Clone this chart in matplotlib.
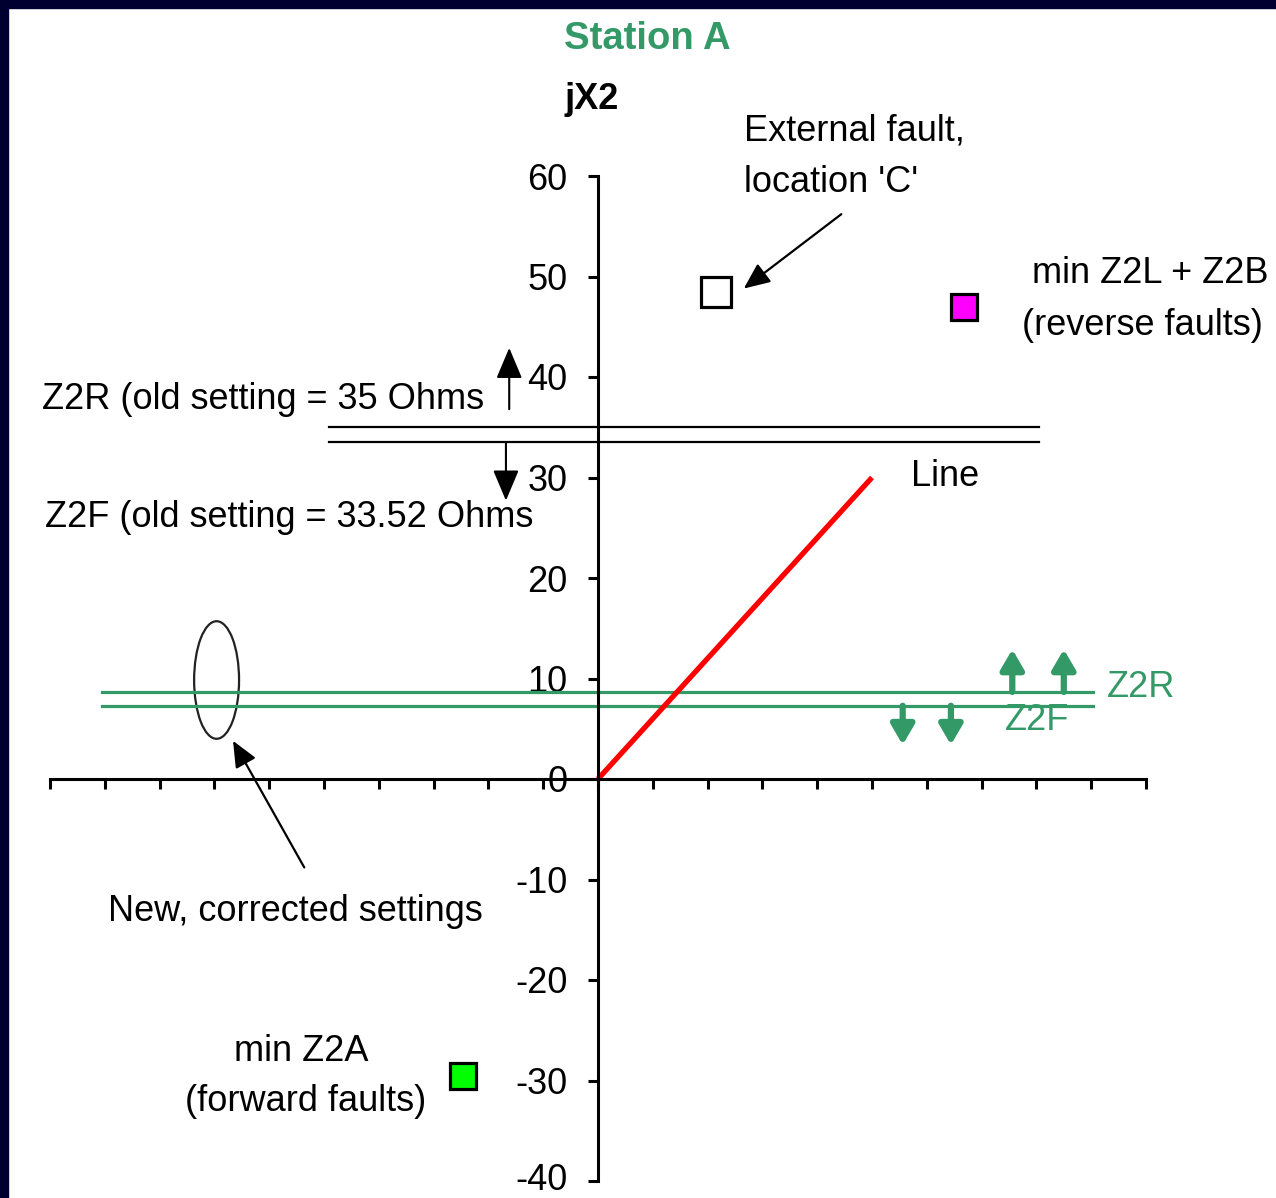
import matplotlib
matplotlib.use("Agg")
import matplotlib.pyplot as plt
import matplotlib.transforms as mtransforms
from matplotlib.patches import Ellipse, FancyArrowPatch, Rectangle

plt.rcParams['font.family'] = ['Liberation Sans', 'DejaVu Sans']

# ---- data ----
line_x = [0, 25]
line_y = [0, 30]
ext_fault = (10.8, 48.5)
reverse_min = (33.4, 47.0)
forward_min = (-12.3, -29.6)
z2r_old, z2f_old = 35.0, 33.52
old_span = (-24.5, 40.2)
z2r_new, z2f_new = 8.66, 7.29
new_span = (-45.3, 45.2)
yticks = [-40, -30, -20, -10, 0, 10, 20, 30, 40, 50, 60]
xticks = list(range(-50, 51, 5))

GREEN = '#339966'
NAVY = '#000030'
FS = 26

fig = plt.figure(figsize=(12.76, 11.98), dpi=100, facecolor='white')
# navy border (top/left)
fig.patches.append(Rectangle((0, 1 - 8 / 1198), 1, 8 / 1198, transform=fig.transFigure,
                             color=NAVY, zorder=0))
fig.patches.append(Rectangle((0, 0), 8 / 1276, 1, transform=fig.transFigure,
                             color=NAVY, zorder=0))

ax = fig.add_axes([50 / 1276, 1 - 1181 / 1198, (1146 - 50) / 1276, (1181 - 176) / 1198])
ax.set_facecolor('none')
ax.set_xlim(-50, 50)
ax.set_ylim(-40, 60)
for s in ['top', 'right']:
    ax.spines[s].set_visible(False)
ax.spines['left'].set_position(('data', 0))
ax.spines['bottom'].set_position(('data', 0))
ax.spines['left'].set_linewidth(2.2)
ax.spines['bottom'].set_linewidth(2.2)
ax.set_yticks(yticks)
ax.set_yticklabels([str(v) for v in yticks], fontsize=FS)
ax.set_xticks(xticks)
ax.set_xticklabels([])
ax.tick_params(axis='y', direction='out', length=7, width=2.2, pad=15)
ax.tick_params(axis='x', direction='out', length=7, width=2.2)
# nudge the lowest tick label slightly up so it stays inside the canvas
lowest = ax.get_yticklabels()[0]
lowest.set_transform(lowest.get_transform() +
                     mtransforms.ScaledTranslation(0, 4 / 100, fig.dpi_scale_trans))

# old settings lines
ax.plot(old_span, [z2r_old, z2r_old], color='black', lw=1.6)
ax.plot(old_span, [z2f_old, z2f_old], color='black', lw=1.6)
# new settings lines
ax.plot(new_span, [z2r_new, z2r_new], color=GREEN, lw=2.3)
ax.plot(new_span, [z2f_new, z2f_new], color=GREEN, lw=2.3)

# line
ax.plot(line_x, line_y, color='#ff0000', lw=3.8, solid_capstyle='butt')

# points
ax.plot(*ext_fault, marker='s', ms=21, mfc='white', mec='black', mew=2.3, ls='none')
ax.plot(*reverse_min, marker='s', ms=19, mfc='#ff00ff', mec='black', mew=2.3, ls='none')
ax.plot(*forward_min, marker='s', ms=19, mfc='#00ff00', mec='black', mew=2.3, ls='none')


def arrow(p0, p1, color='black', lw=1.5, hl=18, hw=9):
    a = FancyArrowPatch(p0, p1, arrowstyle=f'-|>,head_length={hl},head_width={hw}',
                        mutation_scale=1, color=color, lw=lw, shrinkA=0, shrinkB=0,
                        clip_on=False)
    ax.add_patch(a)


# black old-setting arrows
arrow((-8.1, 36.8), (-8.1, 42.9), lw=1.5, hl=19, hw=8)
arrow((-8.4, z2f_old), (-8.4, 27.7), lw=1.5, hl=19, hw=8)
# green arrows
for gx in [37.8, 42.5]:
    arrow((gx, z2r_new), (gx, 12.9), color=GREEN, lw=4.5, hl=12, hw=7)
for gx in [27.8, 32.2]:
    arrow((gx, z2f_new), (gx, 3.4), color=GREEN, lw=4.5, hl=12, hw=7)

# annotation arrows
arrow((22.2, 56.2), (13.3, 48.8), lw=1.6, hl=16, hw=7)
arrow((-26.8, -8.8), (-33.3, 3.8), lw=1.6, hl=16, hw=7)

# ellipse
ax.add_patch(Ellipse((-34.8, 9.85), 4.1, 11.7, fill=False, ec='#222222', lw=1.6))

# texts
txt = dict(fontsize=FS, va='center', clip_on=False)
ax.text(4.5, 73.6, 'Station A', color=GREEN, fontweight='bold', ha='center',
        **{**txt, 'fontsize': 27.5})
ax.text(-3.05, 67.6, 'jX2', fontweight='bold', ha='left', **txt)
ax.text(13.3, 64.5, 'External fault,', ha='left', **txt)
ax.text(13.3, 59.4, "location 'C'", ha='left', **txt)
ax.text(39.6, 50.3, 'min Z2L + Z2B', ha='left', **txt)
ax.text(38.7, 45.1, '(reverse faults)', ha='left', **txt)
ax.text(-50.7, 37.8, 'Z2R (old setting = 35 Ohms', ha='left', **txt)
ax.text(-50.5, 26.0, 'Z2F (old setting = 33.52 Ohms', ha='left', **txt)
ax.text(28.6, 30.1, 'Line', ha='left', **txt)
ax.text(-44.7, -13.2, 'New, corrected settings', ha='left', **txt)
ax.text(-27.1, -27.1, 'min Z2A', ha='center', **txt)
ax.text(-26.7, -32.1, '(forward faults)', ha='center', **txt)
ax.text(46.4, 9.1, 'Z2R', color=GREEN, ha='left', **txt)
ax.text(37.1, 5.8, 'Z2F', color=GREEN, ha='left', **txt)

fig.savefig('out.png', dpi=100, facecolor='white')
